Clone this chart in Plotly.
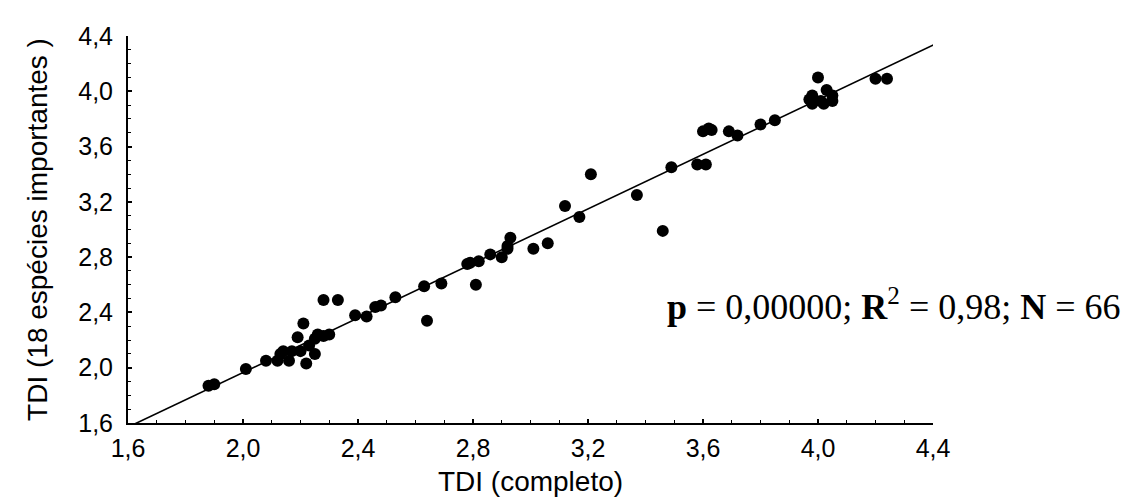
import numpy as np
import plotly.graph_objects as go

# TDI (completo) vs TDI (18 espécies importantes)
tdi_completo = [
    1.88, 1.90, 2.01, 2.08, 2.12, 2.16, 2.14, 2.17, 2.20, 2.22,
    2.25, 2.19, 2.21, 2.25, 2.26, 2.28, 2.28, 2.33, 2.39, 2.43,
    2.46, 2.48, 2.53, 2.63, 2.69, 2.64, 2.78, 2.79, 2.82, 2.81,
    2.86, 2.90, 2.92, 2.93, 3.01, 3.06, 3.12, 3.17, 3.21, 3.37,
    3.46, 3.49, 3.58, 3.61, 3.60, 3.63, 3.69, 3.72, 3.80, 3.85,
    4.00, 3.97, 3.98, 4.01, 4.03, 4.05, 4.05, 4.20, 4.24, 2.23,
    2.30, 2.13, 3.98, 4.02, 2.92, 3.62,
]
tdi_18 = [
    1.87, 1.88, 1.99, 2.05, 2.05, 2.05, 2.12, 2.12, 2.12, 2.03,
    2.10, 2.22, 2.32, 2.21, 2.24, 2.23, 2.49, 2.49, 2.38, 2.37,
    2.44, 2.45, 2.51, 2.59, 2.61, 2.34, 2.75, 2.76, 2.77, 2.60,
    2.82, 2.80, 2.86, 2.94, 2.86, 2.90, 3.17, 3.09, 3.40, 3.25,
    2.99, 3.45, 3.47, 3.47, 3.71, 3.72, 3.71, 3.68, 3.76, 3.79,
    4.10, 3.94, 3.91, 3.93, 4.01, 3.97, 3.93, 4.09, 4.09, 2.16,
    2.24, 2.10, 3.97, 3.91, 2.88, 3.73,
]
tick_vals = [1.6, 2.0, 2.4, 2.8, 3.2, 3.6, 4.0, 4.4]
tick_text = ["1,6", "2,0", "2,4", "2,8", "3,2", "3,6", "4,0", "4,4"]
stats_text = "<b>p</b> = 0,00000; <b>R</b><sup>2</sup> = 0,98; <b>N</b> = 66"

slope, intercept = np.polyfit(tdi_completo, tdi_18, 1)
line_x = np.array([1.6, 4.42])
line_y = intercept + slope * line_x

fig = go.Figure()
fig.add_trace(go.Scatter(
    x=line_x, y=line_y, mode="lines",
    line=dict(color="black", width=1.6), showlegend=False, hoverinfo="skip",
    cliponaxis=False,
))
fig.add_trace(go.Scatter(
    x=tdi_completo, y=tdi_18, mode="markers",
    marker=dict(color="black", size=12, line=dict(width=0)),
    showlegend=False,
))

axis_font = dict(family="Liberation Sans, Arial, sans-serif", size=25, color="black")
title_font = dict(family="Liberation Sans, Arial, sans-serif", size=28, color="black")
common = dict(
    range=[1.6, 4.4], tickvals=tick_vals, ticktext=tick_text, automargin=False,
    showline=True, linecolor="black", linewidth=2, mirror=False,
    ticks="inside", ticklen=4, tickcolor="black", tickwidth=1.5,
    minor=dict(dtick=0.1, tick0=1.6, ticks="inside", ticklen=3, tickcolor="black", tickwidth=1),
    showgrid=False, zeroline=False, tickfont=axis_font,
)

fig.update_xaxes(**common, ticklabelstandoff=2,
                 title=dict(text="TDI (completo)", font=title_font, standoff=10))
fig.update_yaxes(**common, ticklabelstandoff=8,
                 title=dict(text="TDI (18 espécies importantes )", font=title_font, standoff=22))

fig.add_annotation(
    xref="paper", yref="paper", x=0.952, y=0.305, xanchor="center", yanchor="middle",
    text=stats_text, showarrow=False,
    font=dict(family="Liberation Serif, Times New Roman, serif", size=36, color="black"),
)

fig.update_layout(
    width=1139, height=504,
    margin=dict(l=120, r=214, t=28, b=89),
    paper_bgcolor="white", plot_bgcolor="white",
)

fig.write_html("out.html")
